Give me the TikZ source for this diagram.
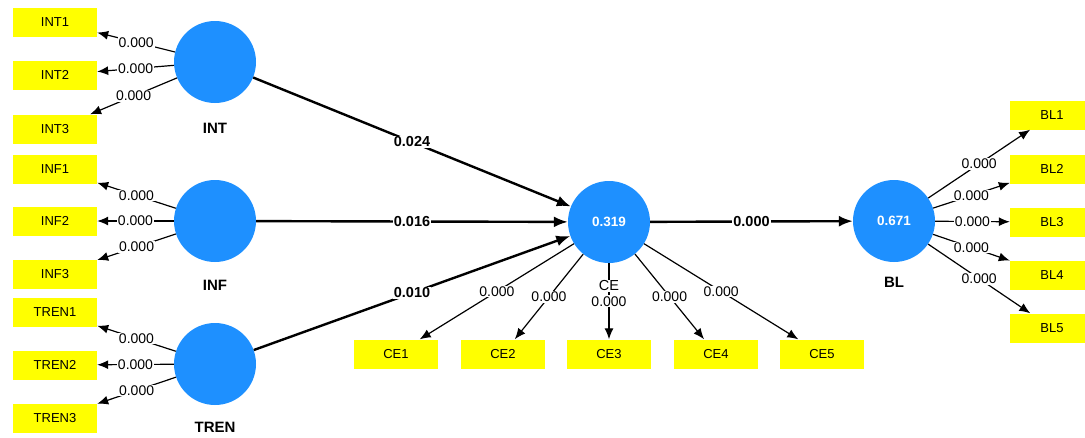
\documentclass[tikz,border=0pt]{standalone}
\usepackage{fontspec}
\setmainfont{Liberation Sans}
\usetikzlibrary{arrows.meta}
\definecolor{latentblue}{RGB}{30,144,255}
\definecolor{itemyellow}{RGB}{255,255,0}

\begin{document}
\begin{tikzpicture}[x=1pt,y=-1pt,
  latent/.style={circle,fill=latentblue,minimum size=82pt,inner sep=0pt,text=white,
    font=\bfseries\fontsize{13.5}{13.5}\selectfont},
  item/.style={rectangle,fill=itemyellow,minimum width=84pt,minimum height=29pt,inner sep=0pt,
    font=\fontsize{13}{13}\selectfont},
  lname/.style={fill=white,inner sep=1pt,font=\bfseries\fontsize{15}{15}\selectfont},
  loading/.style={-{Latex[length=11pt,width=9pt]},line width=1.2pt},
  structural/.style={-{Latex[length=14pt,width=11pt]},line width=2.4pt},
  val/.style={fill=white,inner sep=1pt,font=\fontsize{14}{14}\selectfont},
  bval/.style={fill=white,inner sep=1pt,font=\bfseries\fontsize{14.5}{14.5}\selectfont}]
\useasboundingbox (0,0) rectangle (1085,437);

% latent constructs
\node[latent] (INT)  at (215,62)  {};
\node[latent] (INF)  at (215,221) {};
\node[latent] (TREN) at (215,364) {};
\node[latent] (CE)   at (609,222) {0.319};
\node[latent] (BL)   at (894,221) {0.671};

% indicators
\node[item] (INT1)  at (55,22)  {INT1};
\node[item] (INT2)  at (55,75)  {INT2};
\node[item] (INT3)  at (55,129) {INT3};
\node[item] (INF1)  at (55,169) {INF1};
\node[item] (INF2)  at (55,221) {INF2};
\node[item] (INF3)  at (55,274) {INF3};
\node[item] (TREN1) at (55,312) {TREN1};
\node[item] (TREN2) at (55,365) {TREN2};
\node[item] (TREN3) at (55,418) {TREN3};
\node[item] (CE1) at (396,354) {CE1};
\node[item] (CE2) at (503,354) {CE2};
\node[item] (CE3) at (609,354) {CE3};
\node[item] (CE4) at (716,354) {CE4};
\node[item] (CE5) at (822,354) {CE5};
\node[item] (BL1) at (1052,115) {BL1};
\node[item] (BL2) at (1052,169) {BL2};
\node[item] (BL3) at (1052,222) {BL3};
\node[item] (BL4) at (1052,275) {BL4};
\node[item] (BL5) at (1052,328) {BL5};

% outer loadings
\foreach \c in {INT,INF,TREN}
  \foreach \i in {1,2,3}
    \draw[loading] (\c) -- (\c\i) node[val,pos=0.5] {0.000};
\foreach \i in {1,...,5}
  \draw[loading] (CE) -- (CE\i) node[val,pos=0.5] {0.000};
\foreach \i in {1,...,5}
  \draw[loading] (BL) -- (BL\i) node[val,pos=0.5] {0.000};

% structural paths
\draw[structural] (INT)  -- (CE) node[bval,pos=0.5] {0.024};
\draw[structural] (INF)  -- (CE) node[bval,pos=0.5] {0.016};
\draw[structural] (TREN) -- (CE) node[bval,pos=0.5] {0.010};
\draw[structural] (CE)   -- (BL) node[bval,pos=0.5] {0.000};

% construct names
\node[lname] (nINT)  at (215,128) {INT};
\node[lname] (nINF)  at (215,285) {INF};
\node[lname] (nTREN) at (215,427) {TREN};
\node[fill=white,inner sep=1pt,font=\fontsize{14.5}{14.5}\selectfont] (nCE) at (609,286) {CE};
\node[lname] (nBL)   at (894,282) {BL};
\end{tikzpicture}
\end{document}
